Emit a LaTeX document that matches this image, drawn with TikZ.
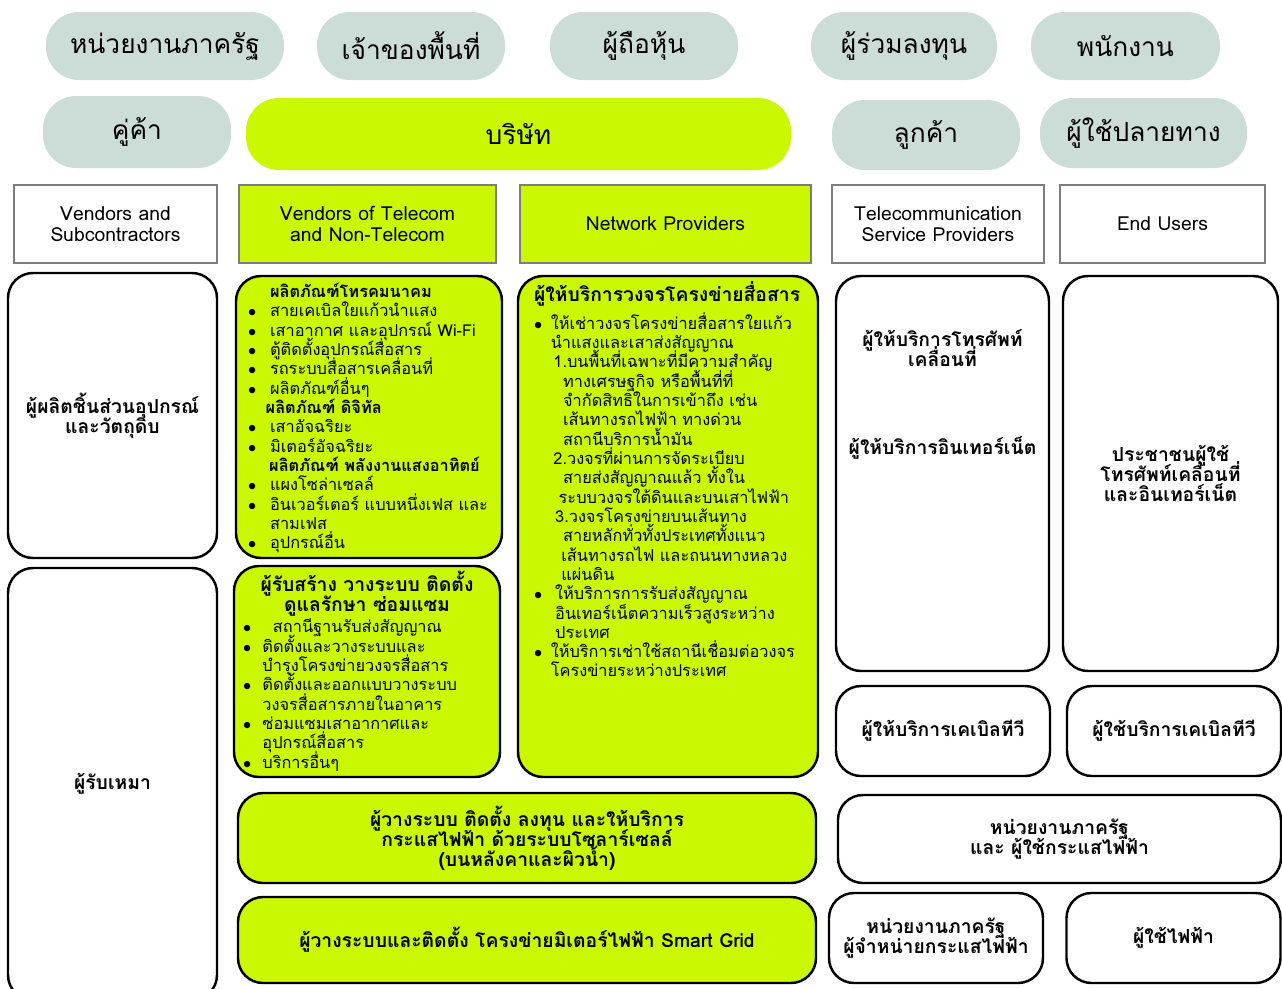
\documentclass[tikz,border=0pt]{standalone}
\usepackage{fontspec}
\setmainfont{Loma}[Script=Thai]
\usetikzlibrary{calc}
\setlength{\lineskiplimit}{-50pt}

\definecolor{pillgray}{RGB}{204,220,215}
\definecolor{lime}{RGB}{202,248,0}
\definecolor{hdrgray}{RGB}{125,125,125}
\newcommand{\pxu}{0.02cm}
\newcommand{\bul}[1][12.5pt]{\makebox[#1][l]{$\bullet$}}

\tikzset{
  sz/.style 2 args={minimum width=#1*\pxu, minimum height=#2*\pxu},
  pill/.style={fill=pillgray, rounded corners=0.66cm, inner sep=0pt,
    font=\fontsize{15}{17}\selectfont},
  hdr/.style={draw=hdrgray, line width=0.8pt, fill=white, inner sep=0pt, align=center,
    font=\fontsize{11}{12}\selectfont},
  rbox/.style={draw=black, line width=1.4pt, fill=white, rounded corners=0.5cm,
    inner sep=0pt, align=center, font=\bfseries\fontsize{11}{11.5}\selectfont},
  gbox/.style={rbox, fill=lime},
  listtxt/.style={inner sep=0pt, align=left, font=\fontsize{9.3}{11}\selectfont},
  bold/.style={inner sep=0pt, align=center, font=\bfseries\fontsize{11}{11.5}\selectfont}
}

\begin{document}
\begin{tikzpicture}[x=\pxu,y=-\pxu]
\useasboundingbox (0,0) rectangle (1282,988);

% stakeholders
\node[pill, sz={238}{68}] (govt) at (165,46) {หน่วยงานภาครัฐ};
\node[pill, sz={188}{68}] (owner) at (411,46) {เจ้าของพื้นที่};
\node[pill, sz={188}{68}] (holder) at (644,46) {ผู้ถือหุ้น};
\node[pill, sz={186}{68}] (invest) at (904,46) {ผู้ร่วมลงทุน};
\node[pill, sz={189}{68}] (staff) at (1125.5,46) {พนักงาน};

\node[pill, sz={188}{72}] (partner) at (137,132) {คู่ค้า};
\node[pill, fill=lime, sz={545}{72}] (company) at (518.5,134) {บริษัท};
\node[pill, sz={188}{70}] (customer) at (926,135) {ลูกค้า};
\node[pill, sz={207}{70}] (enduser) at (1143.5,133) {ผู้ใช้ปลายทาง};

% column headers
\node[hdr, sz={203}{78}] (hvend) at (115.5,224) {Vendors and\\Subcontractors};
\node[hdr, fill=lime, sz={257}{78}] (htel) at (367.5,224) {Vendors of Telecom\\and Non-Telecom};
\node[hdr, fill=lime, sz={291}{78}] (hnet) at (665.5,224) {Network Providers};
\node[hdr, sz={212}{78}] (hsp) at (938,224) {Telecommunication\\Service Providers};
\node[hdr, sz={205}{78}] (hend) at (1162.5,224) {End Users};

% left column
\node[rbox, sz={209}{285}] (maker) at (112.5,415.5) {ผู้ผลิตชิ้นส่วนอุปกรณ์\\และวัตถุดิบ};
\node[rbox, sz={209}{432}] (contractor) at (112.5,784) {ผู้รับเหมา};

% green boxes
\node[gbox, sz={266}{282}] (tel) at (369,417) {};
\node[gbox, sz={266}{211}] (build) at (367,671.5) {};
\node[gbox, sz={300}{501}] (net) at (668,526.5) {};
\node[gbox, sz={578}{90}] (solar) at (527,838) {ผู้วางระบบ ติดตั้ง ลงทุน และให้บริการ\\กระแสไฟฟ้า ด้วยระบบโซลาร์เซลล์\\(บนหลังคาและผิวน้ำ)};
\node[gbox, sz={578}{86}] (grid) at (527,940) {ผู้วางระบบและติดตั้ง โครงข่ายมิเตอร์ไฟฟ้า Smart Grid};

\node[listtxt, anchor=north west] (telitems) at ($(tel.north west)+(13,8)$) {%
\hspace*{12.5pt}{\bfseries ผลิตภัณฑ์โทรคมนาคม}\\
\bul สายเคเบิลใยแก้วนำแสง\\
\bul เสาอากาศ และอุปกรณ์ Wi-Fi\\
\bul ตู้ติดตั้งอุปกรณ์สื่อสาร\\
\bul รถระบบสื่อสารเคลื่อนที่\\
\bul ผลิตภัณฑ์อื่นๆ\\
\hspace*{10pt}{\bfseries ผลิตภัณฑ์ ดิจิทัล}\\
\bul เสาอัจฉริยะ\\
\bul มิเตอร์อัจฉริยะ\\
\hspace*{12pt}{\bfseries ผลิตภัณฑ์ พลังงานแสงอาทิตย์}\\
\bul แผงโซล่าเซลล์\\
\bul อินเวอร์เตอร์ แบบหนึ่งเฟส และ\\
\hspace*{12.5pt}สามเฟส\\
\bul อุปกรณ์อื่น};

\node[bold] (buildhead) at (367,594) {ผู้รับสร้าง วางระบบ ติดตั้ง\\ดูแลรักษา ซ่อมแซม};
\node[listtxt, anchor=north west] (builditems) at ($(build.north west)+(10,54)$) {%
\bul[17pt]สถานีฐานรับส่งสัญญาณ\\
\bul[11pt]ติดตั้งและวางระบบและ\\
\hspace*{11pt}บำรุงโครงข่ายวงจรสื่อสาร\\
\bul[11pt]ติดตั้งและออกแบบวางระบบ\\
\hspace*{11pt}วงจรสื่อสารภายในอาคาร\\
\bul[11pt]ซ่อมแซมเสาอากาศและ\\
\hspace*{11pt}อุปกรณ์สื่อสาร\\
\bul[11pt]บริการอื่นๆ};

\node[listtxt, anchor=north west] (netitems) at ($(net.north west)+(17,6)$) {%
{\bfseries\fontsize{11}{11}\selectfont ผู้ให้บริการวงจรโครงข่ายสื่อสาร}\\[5pt]
\bul[9.5pt]ให้เช่าวงจรโครงข่ายสื่อสารใยแก้ว\\
\hspace*{9.5pt}นำแสงและเสาส่งสัญญาณ\\
\hspace*{11pt}1.บนพื้นที่เฉพาะที่มีความสำคัญ\\
\hspace*{16.5pt}ทางเศรษฐกิจ หรือพื้นที่ที่\\
\hspace*{16.5pt}จำกัดสิทธิในการเข้าถึง เช่น\\
\hspace*{16.5pt}เส้นทางรถไฟฟ้า ทางด่วน\\
\hspace*{16.5pt}สถานีบริการน้ำมัน\\
\hspace*{11pt}2.วงจรที่ผ่านการจัดระเบียบ\\
\hspace*{16.5pt}สายส่งสัญญาณแล้ว ทั้งใน\\
\hspace*{14pt}ระบบวงจรใต้ดินและบนเสาไฟฟ้า\\
\hspace*{12pt}3.วงจรโครงข่ายบนเส้นทาง\\
\hspace*{16.5pt}สายหลักทั่วทั้งประเทศทั้งแนว\\
\hspace*{15.5pt}เส้นทางรถไฟ และถนนทางหลวง\\
\hspace*{15.5pt}แผ่นดิน\\
\bul[12pt]ให้บริการการรับส่งสัญญาณ\\
\hspace*{12pt}อินเทอร์เน็ตความเร็วสูงระหว่าง\\
\hspace*{12pt}ประเทศ\\
\bul[9.5pt]ให้บริการเช่าใช้สถานีเชื่อมต่อวงจร\\
\hspace*{9.5pt}โครงข่ายระหว่างประเทศ};

% right columns
\node[rbox, sz={213}{395}] (mobile) at (942.5,473.5) {};
\node[bold] (mobtxt) at (942.5,348) {ผู้ให้บริการโทรศัพท์\\เคลื่อนที่};
\node[bold] (isptxt) at (942.5,448) {ผู้ให้บริการอินเทอร์เน็ต};
\node[rbox, sz={215}{395}] (people) at (1170.5,473.5) {ประชาชนผู้ใช้\\โทรศัพท์เคลื่อนที่\\และอินเทอร์เน็ต};
\node[rbox, sz={214}{90}] (cabletv) at (943,731) {ผู้ให้บริการเคเบิลทีวี};
\node[rbox, sz={214}{90}] (cableuse) at (1174,731) {ผู้ใช้บริการเคเบิลทีวี};
\node[rbox, sz={443}{88}] (govuse) at (1059.5,839) {หน่วยงานภาครัฐ\\และ ผู้ใช้กระแสไฟฟ้า};
\node[rbox, sz={214}{90}] (govsell) at (936,938) {หน่วยงานภาครัฐ\\ผู้จำหน่ายกระแสไฟฟ้า};
\node[rbox, sz={214}{90}] (elecuser) at (1173.5,938) {ผู้ใช้ไฟฟ้า};
\end{tikzpicture}
\end{document}
